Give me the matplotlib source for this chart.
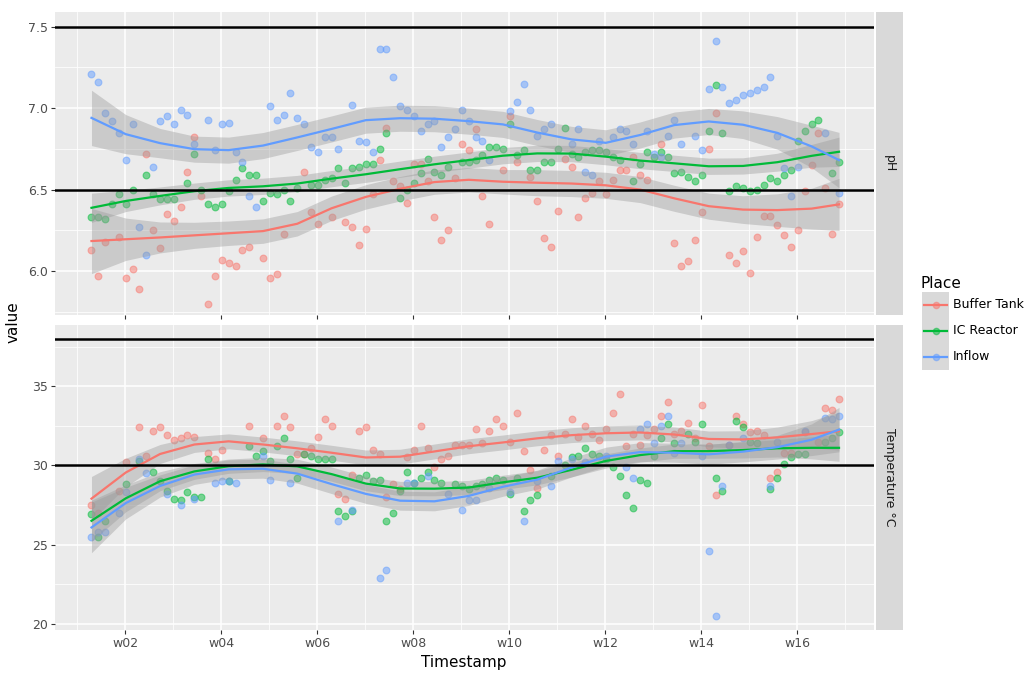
import numpy as np
import matplotlib
matplotlib.use("Agg")
import matplotlib.pyplot as plt
from matplotlib.lines import Line2D
from matplotlib.patches import Rectangle

# ---------------------------------------------------------------- data
places = ["Buffer Tank", "IC Reactor", "Inflow"]
place_colors = ["#F8766D", "#00BA38", "#619CFF"]
week_ticks = [2, 4, 6, 8, 10, 12, 14, 16]
week_labels = ["w02", "w04", "w06", "w08", "w10", "w12", "w14", "w16"]
START_WEEK = 1.30  # week position of the first sampling day

# pH readings (day index, value)
ph_buffer_days = [0, 1, 2, 4, 5, 6, 7, 8, 9, 10, 11, 12, 13, 14, 15, 16, 17, 18, 19, 20, 21, 22, 23, 25, 26, 27, 28, 31, 32, 33, 35, 37, 38, 39, 40, 41, 42, 43, 44, 45, 46, 47, 48, 49, 50, 51, 52, 53, 54, 55, 56, 57, 58, 60, 61, 62, 64, 65, 66, 67, 68, 69, 70, 71, 72, 73, 74, 75, 76, 77, 78, 79, 80, 81, 83, 85, 86, 87, 88, 89, 90, 91, 93, 94, 95, 96, 97, 98, 99, 100, 101, 102, 103, 104, 105, 106, 107, 108, 109]
ph_buffer = [6.13, 5.97, 6.18, 6.21, 5.96, 6.01, 5.89, 6.72, 6.25, 6.14, 6.35, 6.31, 6.39, 6.61, 6.82, 6.46, 5.80, 5.97, 6.07, 6.05, 6.03, 6.13, 6.15, 6.08, 5.96, 5.98, 6.23, 6.61, 6.36, 6.29, 6.33, 6.30, 6.27, 6.16, 6.26, 6.47, 6.68, 6.88, 6.55, 6.52, 6.42, 6.66, 6.66, 6.55, 6.33, 6.19, 6.25, 6.57, 6.78, 6.74, 6.87, 6.46, 6.29, 6.62, 6.95, 6.67, 6.58, 6.43, 6.20, 6.15, 6.37, 6.69, 6.64, 6.33, 6.45, 6.48, 6.55, 6.47, 6.56, 6.62, 6.62, 6.70, 6.59, 6.56, 6.78, 6.17, 6.03, 6.06, 6.19, 6.36, 6.75, 6.97, 6.10, 6.05, 6.12, 5.99, 6.21, 6.34, 6.34, 6.28, 6.22, 6.15, 6.25, 6.49, 6.65, 6.85, 6.51, 6.23, 6.41]

ph_reactor_days = [0, 1, 2, 3, 4, 5, 6, 8, 9, 10, 11, 12, 14, 15, 16, 17, 18, 19, 20, 21, 22, 23, 24, 25, 26, 27, 28, 29, 30, 32, 33, 34, 35, 36, 37, 38, 39, 40, 41, 42, 43, 45, 46, 47, 48, 49, 50, 51, 52, 54, 55, 56, 57, 58, 59, 60, 61, 62, 63, 64, 65, 66, 67, 68, 69, 70, 71, 72, 73, 74, 75, 76, 77, 79, 80, 81, 82, 83, 84, 85, 86, 87, 88, 89, 90, 91, 92, 93, 94, 95, 96, 97, 98, 99, 100, 101, 102, 103, 104, 105, 106, 108, 109]
ph_reactor = [6.33, 6.33, 6.32, 6.41, 6.47, 6.41, 6.50, 6.59, 6.47, 6.44, 6.44, 6.44, 6.54, 6.72, 6.50, 6.41, 6.39, 6.41, 6.49, 6.56, 6.63, 6.59, 6.59, 6.43, 6.48, 6.47, 6.50, 6.43, 6.51, 6.53, 6.53, 6.56, 6.57, 6.63, 6.54, 6.63, 6.64, 6.66, 6.66, 6.75, 6.85, 6.45, 6.50, 6.54, 6.60, 6.69, 6.61, 6.59, 6.64, 6.67, 6.67, 6.68, 6.71, 6.76, 6.76, 6.75, 6.90, 6.71, 6.74, 6.62, 6.62, 6.67, 6.67, 6.75, 6.88, 6.72, 6.70, 6.73, 6.74, 6.74, 6.73, 6.70, 6.68, 6.55, 6.66, 6.73, 6.70, 6.73, 6.70, 6.60, 6.61, 6.58, 6.55, 6.59, 6.86, 7.14, 6.85, 6.49, 6.52, 6.51, 6.49, 6.50, 6.53, 6.57, 6.55, 6.59, 6.62, 6.80, 6.86, 6.90, 6.93, 6.60, 6.67]

ph_inflow_days = [0, 1, 2, 3, 4, 5, 6, 7, 8, 9, 10, 11, 12, 13, 14, 15, 17, 18, 19, 20, 21, 22, 23, 24, 26, 27, 28, 29, 30, 31, 32, 33, 34, 35, 36, 38, 39, 40, 41, 42, 43, 44, 45, 46, 47, 48, 49, 50, 51, 52, 53, 54, 55, 56, 57, 58, 61, 62, 63, 64, 65, 66, 67, 70, 71, 72, 73, 74, 76, 77, 78, 79, 81, 82, 83, 84, 85, 86, 88, 89, 90, 91, 92, 93, 94, 95, 96, 97, 98, 99, 100, 101, 102, 103, 107, 109]
ph_inflow = [7.21, 7.16, 6.97, 6.92, 6.85, 6.68, 6.90, 6.27, 6.10, 6.64, 6.92, 6.95, 6.90, 6.99, 6.96, 6.78, 6.93, 6.74, 6.90, 6.91, 6.73, 6.67, 6.46, 6.39, 7.01, 6.93, 6.96, 7.09, 6.94, 6.90, 6.76, 6.73, 6.82, 6.82, 6.75, 7.02, 6.80, 6.79, 6.73, 7.36, 7.36, 7.19, 7.01, 6.99, 6.95, 6.86, 6.90, 6.92, 6.76, 6.82, 6.87, 6.99, 6.92, 6.82, 6.80, 6.68, 6.98, 7.04, 7.15, 6.99, 6.83, 6.87, 6.90, 6.78, 6.87, 6.61, 6.59, 6.80, 6.82, 6.87, 6.86, 6.78, 6.86, 6.72, 6.70, 6.83, 6.93, 6.78, 6.83, 6.74, 7.12, 7.41, 7.13, 7.03, 7.05, 7.08, 7.09, 7.11, 7.13, 7.19, 6.83, 6.63, 6.46, 6.64, 6.85, 6.48]

# Temperature readings (day index, value)
t_buffer_days = [0, 1, 4, 5, 7, 8, 9, 10, 11, 12, 13, 14, 15, 17, 18, 19, 23, 25, 27, 28, 29, 30, 31, 32, 33, 34, 35, 36, 37, 38, 39, 40, 41, 42, 43, 44, 45, 46, 47, 48, 49, 50, 51, 52, 53, 54, 55, 56, 57, 58, 59, 60, 61, 62, 63, 64, 65, 66, 67, 68, 69, 70, 71, 72, 73, 74, 75, 76, 77, 78, 79, 80, 81, 82, 83, 84, 85, 86, 87, 88, 89, 90, 91, 93, 94, 95, 96, 97, 98, 99, 100, 101, 102, 104, 106, 107, 108, 109]
t_buffer = [27.5, 27.0, 28.4, 30.2, 32.4, 30.6, 32.2, 32.4, 31.9, 31.6, 31.7, 31.9, 31.8, 30.8, 30.4, 31.0, 32.5, 31.7, 32.5, 33.1, 32.4, 30.7, 30.7, 31.1, 31.8, 32.9, 32.5, 28.2, 27.9, 29.4, 32.2, 32.4, 31.0, 30.7, 28.0, 28.8, 28.5, 30.5, 31.0, 32.5, 31.1, 29.9, 30.4, 30.6, 31.3, 31.3, 31.3, 32.3, 31.4, 32.2, 32.9, 32.5, 31.5, 33.3, 30.9, 29.7, 28.6, 31.0, 31.9, 30.6, 32.0, 32.9, 31.8, 32.5, 32.0, 31.6, 32.3, 33.3, 34.5, 31.2, 32.0, 31.3, 31.9, 32.3, 33.1, 34.0, 32.0, 32.2, 32.7, 31.7, 33.8, 31.2, 28.1, 31.3, 33.1, 32.6, 32.1, 32.2, 31.9, 29.2, 29.6, 30.8, 30.8, 32.1, 31.5, 33.6, 33.5, 34.2]

t_reactor_days = [0, 1, 2, 5, 7, 9, 10, 11, 12, 13, 14, 15, 16, 17, 20, 23, 24, 25, 26, 27, 28, 29, 30, 31, 32, 33, 34, 35, 36, 37, 38, 39, 40, 41, 42, 43, 44, 45, 46, 47, 48, 49, 50, 51, 53, 54, 55, 56, 57, 58, 59, 60, 61, 62, 63, 64, 65, 67, 69, 70, 71, 72, 73, 74, 75, 76, 77, 78, 79, 80, 81, 82, 83, 84, 85, 87, 88, 89, 91, 92, 94, 95, 96, 97, 99, 100, 101, 102, 103, 104, 107, 108, 109]
t_reactor = [26.9, 25.5, 26.5, 28.8, 30.3, 29.6, 29.0, 28.4, 27.9, 27.8, 28.3, 28.0, 28.0, 30.4, 29.0, 31.2, 30.6, 30.9, 30.3, 31.2, 31.7, 30.4, 29.2, 30.7, 30.6, 30.4, 30.4, 30.4, 27.1, 26.8, 27.1, 29.2, 29.4, 29.0, 29.1, 26.5, 27.0, 28.4, 29.6, 28.9, 29.2, 29.6, 29.1, 28.9, 28.8, 28.7, 28.5, 28.7, 28.8, 29.1, 29.2, 29.1, 28.2, 29.2, 27.1, 27.8, 28.1, 29.3, 30.0, 30.5, 30.6, 31.1, 30.7, 30.6, 30.4, 29.9, 29.3, 28.1, 27.3, 29.1, 28.9, 30.6, 31.7, 32.6, 31.4, 32.0, 31.5, 32.6, 29.2, 28.4, 32.8, 32.4, 31.5, 31.4, 28.5, 29.2, 30.1, 30.5, 30.7, 30.7, 31.5, 31.7, 32.1]

t_inflow_days = [0, 1, 2, 4, 5, 7, 8, 11, 13, 15, 18, 19, 20, 21, 25, 26, 29, 36, 38, 42, 43, 46, 47, 49, 52, 54, 55, 56, 58, 61, 63, 65, 67, 68, 70, 72, 75, 78, 79, 80, 81, 82, 83, 84, 85, 86, 89, 90, 91, 92, 93, 95, 99, 100, 104, 107, 108, 109]
t_inflow = [25.5, 25.8, 25.8, 27.0, 28.3, 30.4, 29.5, 28.2, 27.5, 27.9, 28.9, 29.0, 29.0, 28.9, 30.6, 29.1, 28.9, 26.5, 27.2, 22.9, 23.4, 28.9, 28.9, 29.3, 28.2, 27.2, 27.8, 27.8, 28.6, 28.3, 26.5, 29.0, 28.7, 30.3, 30.4, 30.2, 30.6, 29.9, 29.2, 32.3, 32.6, 31.4, 32.5, 33.1, 30.8, 31.4, 30.6, 24.6, 20.5, 28.7, 31.3, 31.7, 28.7, 31.5, 32.2, 33.0, 32.9, 33.1]

# Smoothed trend (day index) with half-width of the confidence band
smooth_days = [0, 5, 10, 15, 20, 25, 30, 35, 40, 45, 50, 55, 60, 65, 70, 75, 80, 85, 90, 95, 100, 105, 109]
ph_fit_buffer = [6.184, 6.195, 6.206, 6.219, 6.232, 6.245, 6.29, 6.385, 6.455, 6.505, 6.546, 6.560, 6.548, 6.542, 6.537, 6.526, 6.50, 6.446, 6.398, 6.377, 6.374, 6.383, 6.409]
ph_se_buffer = [0.20, 0.13, 0.095, 0.08, 0.075, 0.075, 0.075, 0.075, 0.075, 0.075, 0.075, 0.075, 0.075, 0.08, 0.08, 0.08, 0.08, 0.08, 0.08, 0.085, 0.10, 0.125, 0.16]
ph_fit_reactor = [6.388, 6.43, 6.461, 6.49, 6.51, 6.52, 6.537, 6.567, 6.594, 6.625, 6.655, 6.681, 6.708, 6.722, 6.721, 6.702, 6.678, 6.661, 6.643, 6.645, 6.668, 6.707, 6.732]
ph_se_reactor = [0.09, 0.065, 0.055, 0.05, 0.05, 0.05, 0.05, 0.05, 0.05, 0.05, 0.05, 0.05, 0.05, 0.05, 0.05, 0.05, 0.05, 0.05, 0.05, 0.05, 0.055, 0.07, 0.09]
ph_fit_inflow = [6.94, 6.84, 6.785, 6.748, 6.742, 6.77, 6.82, 6.872, 6.926, 6.938, 6.935, 6.92, 6.90, 6.85, 6.808, 6.787, 6.835, 6.896, 6.918, 6.898, 6.848, 6.765, 6.681]
ph_se_inflow = [0.17, 0.12, 0.09, 0.08, 0.08, 0.08, 0.08, 0.08, 0.08, 0.08, 0.08, 0.08, 0.08, 0.08, 0.08, 0.08, 0.08, 0.08, 0.08, 0.085, 0.10, 0.13, 0.17]

t_fit_buffer = [27.9, 29.55, 30.72, 31.32, 31.52, 31.32, 31.08, 30.80, 30.50, 30.55, 30.88, 31.21, 31.45, 31.71, 31.91, 32.03, 32.08, 31.95, 31.67, 31.64, 31.77, 31.98, 32.16]
t_se_buffer = [1.4, 0.9, 0.6, 0.5, 0.47, 0.47, 0.47, 0.47, 0.47, 0.47, 0.47, 0.47, 0.47, 0.47, 0.47, 0.47, 0.47, 0.47, 0.5, 0.55, 0.65, 0.85, 1.2]
t_fit_reactor = [26.5, 27.92, 29.0, 29.62, 29.95, 30.06, 29.94, 29.45, 28.85, 28.54, 28.53, 28.60, 28.93, 29.22, 29.72, 30.28, 30.65, 30.90, 30.90, 30.97, 31.08, 31.11, 31.11]
t_se_reactor = [1.3, 0.85, 0.6, 0.5, 0.45, 0.45, 0.45, 0.45, 0.45, 0.45, 0.45, 0.45, 0.45, 0.45, 0.45, 0.45, 0.45, 0.45, 0.45, 0.5, 0.55, 0.7, 0.85]
t_fit_inflow = [26.08, 27.62, 28.7, 29.42, 29.75, 29.79, 29.48, 28.82, 28.2, 27.77, 27.73, 28.07, 28.65, 29.1, 29.87, 30.55, 30.84, 30.80, 30.70, 30.87, 31.15, 31.62, 32.26]
t_se_inflow = [1.6, 1.0, 0.7, 0.62, 0.6, 0.6, 0.6, 0.6, 0.6, 0.6, 0.6, 0.6, 0.6, 0.6, 0.6, 0.6, 0.6, 0.6, 0.62, 0.65, 0.75, 1.0, 1.4]

ph_limits = [6.5, 7.5]
temp_limits = [30, 38]

# ---------------------------------------------------------------- layout
W, H = 1026, 675
fig = plt.figure(figsize=(W / 100, H / 100), dpi=100)
fig.patch.set_facecolor("white")


def box(x0, y0, x1, y1):
    """Pixel box (top-left origin) -> figure rect."""
    return [x0 / W, 1 - y1 / H, (x1 - x0) / W, (y1 - y0) / H]


def week(days):
    return START_WEEK + np.asarray(days, dtype=float) / 7.0


ax_ph = fig.add_axes(box(55, 12, 874, 315))
ax_t = fig.add_axes(box(55, 325, 874, 630))

GRID_BG = "#EBEBEB"
TICK_TXT = "#4D4D4D"

panels = [
    (ax_ph, "pH", (5.73, 7.59), [6.0, 6.5, 7.0, 7.5], ["6.0", "6.5", "7.0", "7.5"],
     [5.75, 6.25, 6.75, 7.25],
     [(ph_buffer_days, ph_buffer), (ph_reactor_days, ph_reactor), (ph_inflow_days, ph_inflow)],
     [(ph_fit_buffer, ph_se_buffer), (ph_fit_reactor, ph_se_reactor), (ph_fit_inflow, ph_se_inflow)],
     ph_limits),
    (ax_t, "Temperature °C", (19.6, 38.87), [20, 25, 30, 35], ["20", "25", "30", "35"],
     [22.5, 27.5, 32.5, 37.5],
     [(t_buffer_days, t_buffer), (t_reactor_days, t_reactor), (t_inflow_days, t_inflow)],
     [(t_fit_buffer, t_se_buffer), (t_fit_reactor, t_se_reactor), (t_fit_inflow, t_se_inflow)],
     temp_limits),
]

for ax, strip, ylim, yt, ytl, yminor, obs, fits, limits in panels:
    ax.set_facecolor(GRID_BG)
    ax.set_xlim(0.54, 17.6)
    ax.set_ylim(*ylim)
    for s in ax.spines.values():
        s.set_visible(False)
    # grid
    for v in yt:
        ax.axhline(v, color="white", lw=1.1, zorder=0.5)
    for v in yminor:
        ax.axhline(v, color="white", lw=0.55, zorder=0.4)
    for v in week_ticks:
        ax.axvline(v, color="white", lw=1.1, zorder=0.5)
    for v in range(1, 18, 2):
        ax.axvline(v, color="white", lw=0.55, zorder=0.4)

    ax.set_yticks(yt)
    ax.set_yticklabels(ytl)
    ax.set_xticks(week_ticks)
    ax.tick_params(axis="both", length=3, width=0.8, color="#333333",
                   labelcolor=TICK_TXT, labelsize=9, pad=2)

    # raw observations
    for (d, v), col in zip(obs, place_colors):
        ax.scatter(week(d), v, s=24, color=col, alpha=0.5, edgecolors=col,
                   linewidths=0.8, zorder=2)
    # smoothed trends with confidence bands
    for (fit, se), col in zip(fits, place_colors):
        xs = week(smooth_days)
        fit = np.asarray(fit)
        se = np.asarray(se)
        ax.fill_between(xs, fit - se, fit + se, color="#999999", alpha=0.4,
                        lw=0, zorder=3)
        ax.plot(xs, fit, color=col, lw=1.6, zorder=4)
    for v in limits:
        ax.axhline(v, color="black", lw=1.8, zorder=5)

    # facet strip
    bb = ax.get_position()
    sax = fig.add_axes([bb.x1 + 2 / W, bb.y0, 27 / W, bb.height])
    sax.set_facecolor("#D9D9D9")
    sax.set_xticks([])
    sax.set_yticks([])
    for s in sax.spines.values():
        s.set_visible(False)
    sax.text(0.5, 0.5, strip, rotation=-90, ha="center", va="center",
             fontsize=9, color="#1A1A1A", transform=sax.transAxes)

ax_ph.tick_params(axis="x", labelbottom=False)
ax_t.set_xticklabels(week_labels)

fig.text(464 / W, 1 - 663 / H, "Timestamp", ha="center", va="center",
         fontsize=11, color="black")
fig.text(13 / W, 1 - 322 / H, "value", ha="center", va="center",
         rotation=90, fontsize=11, color="black")

# ---------------------------------------------------------------- legend
fig.text(920 / W, 1 - 283 / H, "Place", ha="left", va="center",
         fontsize=11, color="black")
fig.patches.append(Rectangle((922 / W, 1 - 370 / H), 27 / W, 78 / H,
                             transform=fig.transFigure, facecolor="#D9D9D9",
                             edgecolor="none"))
for i, (name, col) in enumerate(zip(places, place_colors)):
    yc = 1 - (305 + 26 * i) / H
    fig.lines.append(Line2D([924 / W, 947 / W], [yc, yc], color=col, lw=1.6,
                            transform=fig.transFigure))
    fig.lines.append(Line2D([935.5 / W], [yc], color=col, marker="o",
                            markersize=4.5, alpha=0.5, lw=0,
                            transform=fig.transFigure))
    fig.text(953 / W, yc, name, ha="left", va="center", fontsize=9,
             color="black")

fig.savefig("out.png", dpi=100, facecolor="white")
